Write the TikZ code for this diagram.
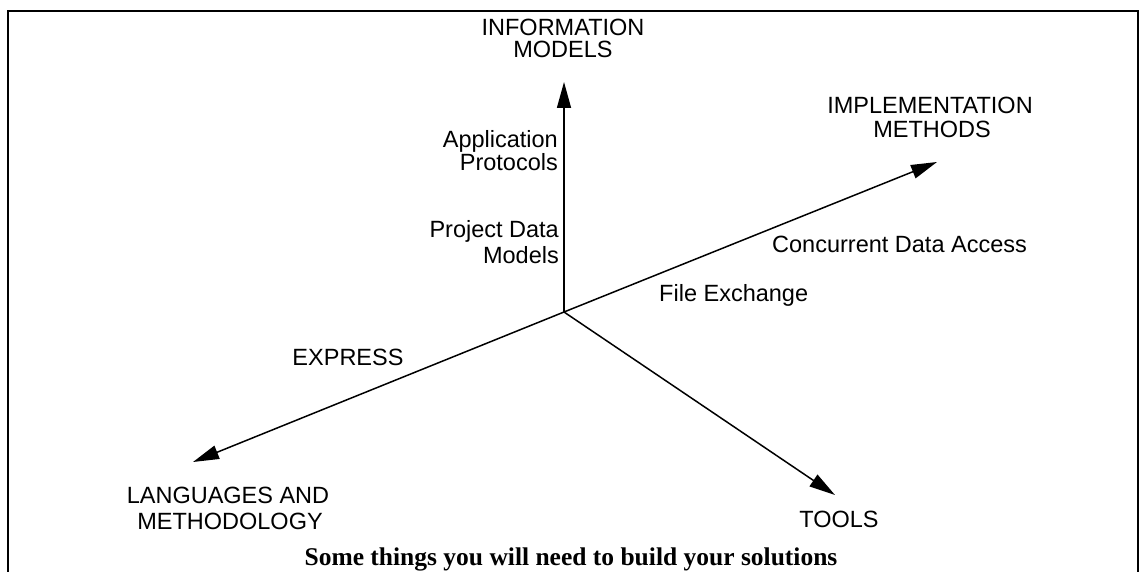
\documentclass[tikz,border=0pt]{standalone}
\usepackage{fontspec}
\setmainfont{Liberation Sans}
\newfontfamily\captionfont{Liberation Serif}
\usetikzlibrary{arrows.meta}

\begin{document}
\begin{tikzpicture}[x=1pt,y=-1pt,
  frame/.style={line width=2.5pt,line cap=rect},
  axis/.style={line width=1.5pt,-{Triangle[length=26pt,width=14pt]}},
  lbl/.style={inner sep=0pt,font=\fontsize{23.5}{23.5}\selectfont},
  captext/.style={inner sep=0pt,font=\captionfont\bfseries\fontsize{25.5}{25.5}\selectfont}]
  \useasboundingbox (0,0) rectangle (1147,572);

  % open frame around the figure
  \draw[frame] (8,572) -- (8,11) -- (1138,11) -- (1138,572);

  % axes
  \coordinate (o) at (564,312);
  \coordinate (info) at (564,82);
  \coordinate (impl) at (937,162);
  \coordinate (lang) at (193,462);
  \coordinate (tool) at (835,495);
  \draw[axis] (o) -- (info);
  \draw[axis] (o) -- (impl);
  \draw[axis] (o) -- (lang);
  \draw[axis] (o) -- (tool);

  % axis titles
  \node[lbl,anchor=base] (info1) at (563,36) {INFORMATION};
  \node[lbl,anchor=base] (info2) at (563,58) {MODELS};
  \node[lbl,anchor=base] (impl1) at (930,114) {IMPLEMENTATION};
  \node[lbl,anchor=base] (impl2) at (932,138) {METHODS};
  \node[lbl,anchor=base] (lang1) at (228,503) {LANGUAGES AND};
  \node[lbl,anchor=base] (lang2) at (230,529) {METHODOLOGY};
  \node[lbl,anchor=base] (tool1) at (839,527) {TOOLS};

  % points along the axes
  \node[lbl,anchor=base east] (ap1) at (558,148) {Application};
  \node[lbl,anchor=base east] (ap2) at (558,171) {Protocols};
  \node[lbl,anchor=base east] (pd1) at (559,237) {Project Data};
  \node[lbl,anchor=base east] (pd2) at (559,263) {Models};
  \node[lbl,anchor=base west] (cda) at (772,252) {Concurrent Data Access};
  \node[lbl,anchor=base west] (fx) at (659,301) {File Exchange};
  \node[lbl,anchor=base] (ex) at (348,365) {EXPRESS};

  % caption
  \node[captext,anchor=base] (caption) at (571,565) {Some things you will need to build your solutions};
\end{tikzpicture}
\end{document}
